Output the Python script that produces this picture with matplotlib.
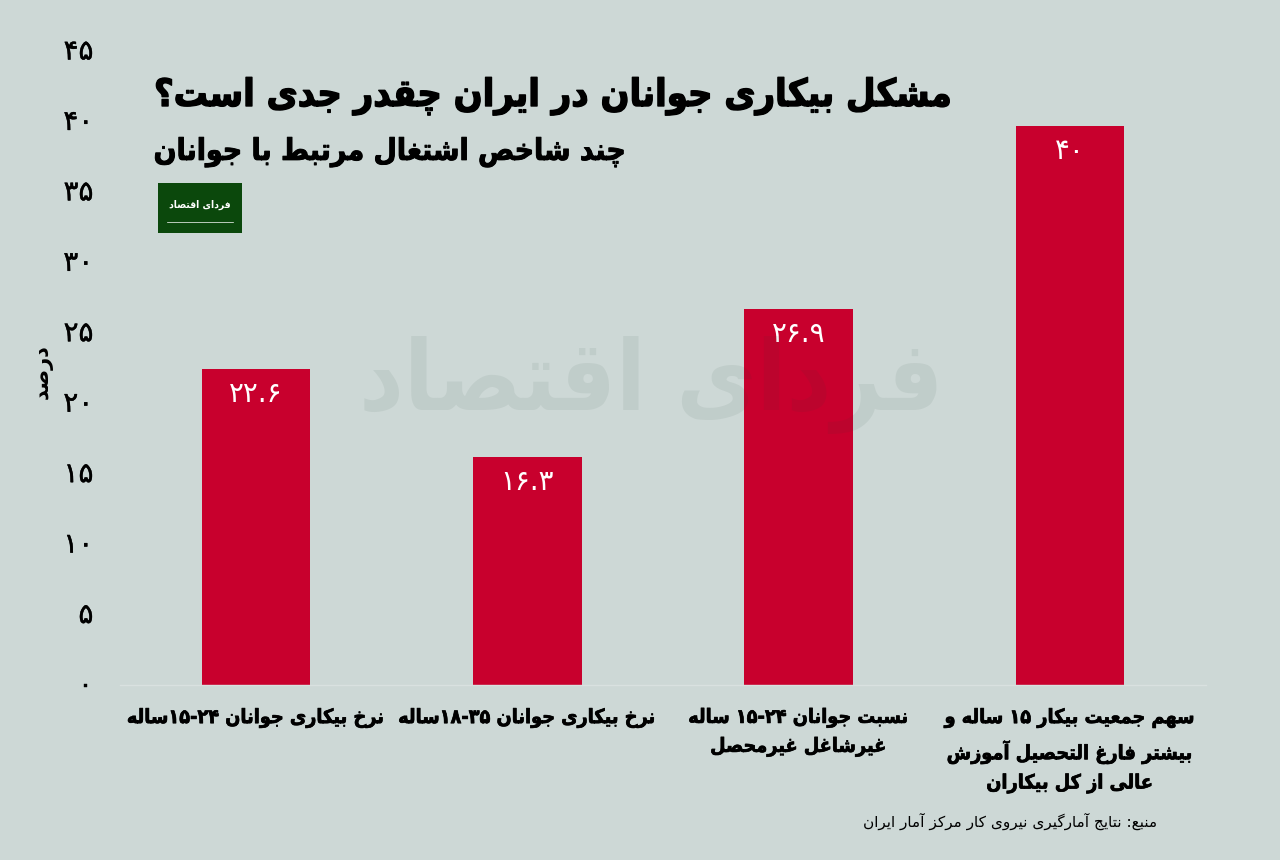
import re
import matplotlib
matplotlib.use("Agg")
import matplotlib.pyplot as plt
import matplotlib.patheffects as pe
from matplotlib.patches import Rectangle
from matplotlib.transforms import ScaledTranslation

# ---- data ----
categories = [
    "نرخ بیکاری جوانان ۱۵-۲۴ساله",
    "نرخ بیکاری جوانان ۱۸-۳۵ساله",
    "نسبت جوانان ۱۵-۲۴ ساله\nغیرشاغل غیرمحصل",
    "سهم جمعیت بیکار ۱۵ ساله و\nبیشتر فارغ التحصیل آموزش\nعالی از کل بیکاران",
]
values = [22.6, 16.3, 26.9, 40]
y_ticks = [0, 5, 10, 15, 20, 25, 30, 35, 40, 45]
title = "مشکل بیکاری جوانان در ایران چقدر جدی است؟"
subtitle = "چند شاخص اشتغال مرتبط با جوانان"
y_label = "درصد"
source = "منبع: نتایج آمارگیری نیروی کار مرکز آمار ایران"
watermark = "فردای اقتصاد"
logo_text = "فردای اقتصاد"

BG = "#CDD8D6"
RED = "#C8002D"
GREEN = "#0B480C"

# ---- minimal Persian shaping (isolated, final, initial, medial) ----
FORMS = {
    "ا": (0xFE8D, 0xFE8E), "آ": (0xFE81, 0xFE82), "د": (0xFEA9, 0xFEAA), "ذ": (0xFEAB, 0xFEAC),
    "ر": (0xFEAD, 0xFEAE), "ز": (0xFEAF, 0xFEB0), "ژ": (0xFB8A, 0xFB8B), "و": (0xFEED, 0xFEEE),
    "ب": (0xFE8F, 0xFE90, 0xFE91, 0xFE92), "پ": (0xFB56, 0xFB57, 0xFB58, 0xFB59),
    "ت": (0xFE95, 0xFE96, 0xFE97, 0xFE98), "ث": (0xFE99, 0xFE9A, 0xFE9B, 0xFE9C),
    "ج": (0xFE9D, 0xFE9E, 0xFE9F, 0xFEA0), "چ": (0xFB7A, 0xFB7B, 0xFB7C, 0xFB7D),
    "ح": (0xFEA1, 0xFEA2, 0xFEA3, 0xFEA4), "خ": (0xFEA5, 0xFEA6, 0xFEA7, 0xFEA8),
    "س": (0xFEB1, 0xFEB2, 0xFEB3, 0xFEB4), "ش": (0xFEB5, 0xFEB6, 0xFEB7, 0xFEB8),
    "ص": (0xFEB9, 0xFEBA, 0xFEBB, 0xFEBC), "ض": (0xFEBD, 0xFEBE, 0xFEBF, 0xFEC0),
    "ط": (0xFEC1, 0xFEC2, 0xFEC3, 0xFEC4), "ظ": (0xFEC5, 0xFEC6, 0xFEC7, 0xFEC8),
    "ع": (0xFEC9, 0xFECA, 0xFECB, 0xFECC), "غ": (0xFECD, 0xFECE, 0xFECF, 0xFED0),
    "ف": (0xFED1, 0xFED2, 0xFED3, 0xFED4), "ق": (0xFED5, 0xFED6, 0xFED7, 0xFED8),
    "ک": (0xFB8E, 0xFB8F, 0xFB90, 0xFB91), "گ": (0xFB92, 0xFB93, 0xFB94, 0xFB95),
    "ل": (0xFEDD, 0xFEDE, 0xFEDF, 0xFEE0), "م": (0xFEE1, 0xFEE2, 0xFEE3, 0xFEE4),
    "ن": (0xFEE5, 0xFEE6, 0xFEE7, 0xFEE8), "ه": (0xFEE9, 0xFEEA, 0xFEEB, 0xFEEC),
    "ی": (0xFBFC, 0xFBFD, 0xFBFE, 0xFBFF),
}


def shape_line(s):
    out = []
    for i, c in enumerate(s):
        f = FORMS.get(c)
        if f is None:
            out.append(c)
            continue
        prev = s[i - 1] if i else ""
        nxt = s[i + 1] if i + 1 < len(s) else ""
        joins_prev = prev in FORMS and len(FORMS[prev]) == 4
        joins_next = nxt in FORMS and len(f) == 4
        if joins_prev and joins_next:
            out.append(chr(f[3]))
        elif joins_prev:
            out.append(chr(f[1]))
        elif joins_next:
            out.append(chr(f[2]))
        else:
            out.append(chr(f[0]))
    runs = re.findall(r"[۰-۹.\-]+|[^۰-۹.\-]+", "".join(out))
    return "".join(r if re.fullmatch(r"[۰-۹.\-]+", r) else r[::-1] for r in reversed(runs))


def fa(s):
    return "\n".join(shape_line(x) for x in s.split("\n"))


def fa_num(v):
    return str(v).translate(str.maketrans("0123456789", "۰۱۲۳۴۵۶۷۸۹"))


W, H = 1280, 860
plt.rcParams["font.family"] = ["DejaVu Sans"]
fig = plt.figure(figsize=(W / 100, H / 100), dpi=100, facecolor=BG)
ax = fig.add_axes([120.3 / W, 1 - 685 / H, (1205.7 - 120.3) / W, 629 / H], facecolor="none")


def px(x, y):
    return x / W, 1 - y / H


def heavy(w, color="black"):
    return [pe.withStroke(linewidth=w, foreground=color)]


COND = dict(fontstretch="condensed", fontweight="bold")

xs = list(range(len(categories)))
ax.bar(xs, values, width=0.4, color=RED, zorder=2)
ax.set_xlim(-0.5, 3.5)
ax.set_ylim(0, 45)
for s in ["top", "right", "left"]:
    ax.spines[s].set_visible(False)
ax.spines["bottom"].set_color("#D9E1E0")
ax.spines["bottom"].set_linewidth(1)

ax.set_xticks(xs)
ax.set_xticklabels([fa(c) for c in categories], fontsize=14.2, color="black",
                   linespacing=1.6, va="top", **COND)
ax.tick_params(axis="x", length=0, pad=16.5)
for lab in ax.get_xticklabels():
    lab.set_path_effects(heavy(0.5))

ax.set_yticks(y_ticks)
ax.set_yticklabels([fa_num(v) for v in y_ticks], fontsize=20, color="black")
ax.tick_params(axis="y", length=0, pad=19.5)
for v, lab in zip(y_ticks, ax.get_yticklabels()):
    up = ScaledTranslation(0, (2.5 + 0.111 * v) / 100, fig.dpi_scale_trans)
    lab.set_transform(lab.get_transform() + up)
    lab.set_path_effects(heavy(0.3))

for x, v in zip(xs, values):
    ax.annotate(fa_num(v), (x, v), xytext=(0, -25), textcoords="offset pixels",
                ha="center", va="center", color="white", fontsize=20, zorder=4)

fig.text(*px(43, 372), fa(y_label), rotation=90, ha="center", va="center",
         fontsize=15, fontweight="bold", color="black")

fig.text(*px(951, 96), fa(title), ha="right", va="center", fontsize=27.2,
         color="black", path_effects=heavy(1.0), **COND)
fig.text(*px(626, 152), fa(subtitle), ha="right", va="center", fontsize=21.5,
         color="black", path_effects=heavy(0.7), **COND)
fig.text(*px(1157, 821), fa(source), ha="right", va="center", fontsize=11, color="black")

# logo
fig.add_artist(Rectangle(px(158, 233), 84 / W, 50 / H, transform=fig.transFigure,
                         facecolor=GREEN, edgecolor="none", zorder=3))
fig.text(*px(200, 205), fa(logo_text), ha="center", va="center", fontsize=7.5,
         color="white", zorder=4, **COND)
fig.add_artist(plt.Line2D([px(167, 0)[0], px(233, 0)[0]], [px(0, 222)[1]] * 2,
                          color="white", lw=0.5, zorder=4))

# watermark, above the bars
fig.text(*px(651, 385), fa(watermark), ha="center", va="center", fontsize=70,
         color="#1E4030", alpha=0.07, zorder=5, **COND)

fig.savefig("out.png", dpi=100, facecolor=BG)
